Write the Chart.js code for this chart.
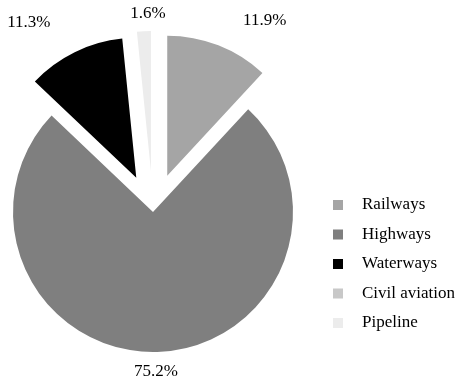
<!DOCTYPE html>
<html lang="en">
<head>
  <meta charset="UTF-8" />
  <title>Freight transport by mode</title>
  <script src="https://cdn.jsdelivr.net/npm/chart.js"></script>
  <style>
    html, body { margin: 0; padding: 0; background: #fff; }
    #wrap { width: 458px; height: 382px; position: relative; }
  </style>
</head>
<body>
  <div id="wrap"><canvas id="modeChart"></canvas></div>

  <script>
    // Share of freight by transport mode (%)
    const modes = ['Railways', 'Highways', 'Waterways', 'Civil aviation', 'Pipeline'];
    const shares = [11.9, 75.2, 11.3, 0, 1.6];
    const shareLabels = ['11.9%', '75.2%', '11.3%', '', '1.6%'];
    const modeColors = ['#a5a5a5', '#7f7f7f', '#000000', '#c8c8c8', '#ececec'];

    const FONT = '"Liberation Serif", "Times New Roman", serif';
    // how far each slice is pulled away from the centre (px)
    const explode = [39, 0, 38, 0, 41];
    // small hand tweaks for where each percentage sits
    const labelNudge = [[39, -6], [-2, 0], [-37, -12], [0, 0], [5, 2]];

    // move the pulled-out slices without letting Chart.js grow their radius
    const explodeSlices = {
      id: 'explodeSlices',
      afterDatasetsUpdate(chart) {
        chart.getDatasetMeta(0).data.forEach((arc, i) => {
          const d = explode[i];
          if (!d) return;
          const mid = (arc.startAngle + arc.endAngle) / 2;
          arc.x += Math.cos(mid) * d;
          arc.y += Math.sin(mid) * d;
        });
      }
    };

    // percentages around the pie + legend on the right
    const decorations = {
      id: 'decorations',
      afterDraw(chart) {
        const ctx = chart.ctx;
        const meta = chart.getDatasetMeta(0);
        ctx.save();
        ctx.font = '17px ' + FONT;
        ctx.fillStyle = '#000';
        ctx.textAlign = 'center';
        ctx.textBaseline = 'middle';
        meta.data.forEach((arc, i) => {
          if (!shareLabels[i]) return;
          const mid = (arc.startAngle + arc.endAngle) / 2;
          const r = arc.outerRadius + 20;
          const x = arc.x + Math.cos(mid) * r + labelNudge[i][0];
          const y = arc.y + Math.sin(mid) * r + labelNudge[i][1];
          ctx.fillText(shareLabels[i], x, y);
        });

        // legend
        ctx.textAlign = 'left';
        modes.forEach((m, i) => {
          const y = 205 + i * 29.5;
          ctx.fillStyle = modeColors[i];
          ctx.fillRect(333, y - 5, 10, 10);
          ctx.fillStyle = '#000';
          ctx.fillText(m, 362, y);
        });
        ctx.restore();
      }
    };

    new Chart(document.getElementById('modeChart'), {
      type: 'pie',
      data: {
        labels: modes,
        datasets: [{
          data: shares,
          backgroundColor: modeColors,
          borderWidth: 0,
          clip: false
        }]
      },
      options: {
        responsive: true,
        maintainAspectRatio: false,
        animation: false,
        radius: 140,
        layout: { padding: { left: 13, right: 165, top: 72, bottom: 30 } },
        plugins: {
          legend: { display: false },
          tooltip: { enabled: false }
        }
      },
      plugins: [explodeSlices, decorations]
    });
  </script>
</body>
</html>
